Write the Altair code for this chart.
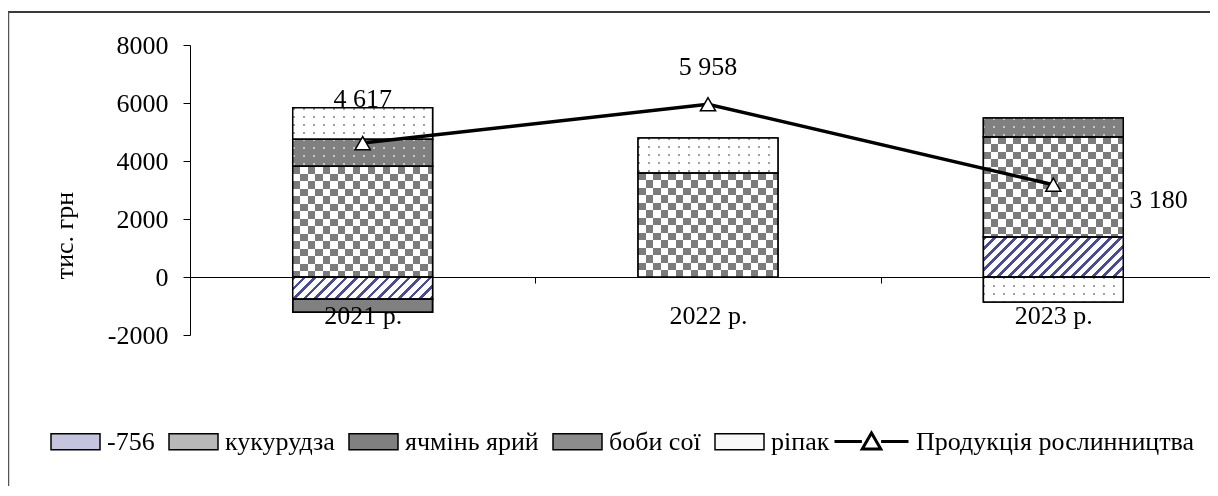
import json
import altair as alt
import pandas as pd

# ---------------- data ----------------
years = ["2021 р.", "2022 р.", "2023 р."]
series_names = ["-756", "кукурудза", "ячмінь ярий", "боби сої", "ріпак"]
s_756 = [-756, 0, 1380]
s_corn = [3820, 3590, 3450]
s_barley = [-460, 0, 0]
s_soy = [930, 0, 650]
s_rape = [1083, 1200, -860]
production = [4617, 5958, 3180]
production_labels = ["4 617", "5 958", "3 180"]
line_name = "Продукція рослинництва"
y_title = "тис. грн"
y_ticks = [-2000, 0, 2000, 4000, 6000, 8000]

series_values = [s_756, s_corn, s_barley, s_soy, s_rape]
rows = []
for k, (name, vals) in enumerate(zip(series_names, series_values)):
    for year, v in zip(years, vals):
        rows.append({"year": year, "series": name, "order": k, "value": v})
bars_df = pd.DataFrame(rows)
line_df = pd.DataFrame({"year": years, "production": production,
                        "label": production_labels})

# ---------------- layout / style ----------------
FONT = "Liberation Serif"
FS = 26
Y_MIN, Y_MAX = -2000, 8000
PLOT_W, PLOT_H = 1020, 290
X_RANGE = 1036
BAND_FRAC = 0.405
step = X_RANGE / len(years)
BW = step * BAND_FRAC
PPU = PLOT_H / (Y_MAX - Y_MIN)

x_enc = alt.X("year:N", sort=years, title=None,
              scale=alt.Scale(range=[0, X_RANGE], paddingInner=0, paddingOuter=0),
              axis=alt.Axis(orient="bottom", offset=-58, domainColor="black", domainWidth=1,
                            tickColor="black", tickSize=6, tickBand="extent",
                            labelFont=FONT, labelFontSize=FS, labelColor="black",
                            labelPadding=19, labelAngle=0, zindex=1, grid=False))
y_axis = alt.Axis(values=y_ticks, grid=False, labelExpr="'' + datum.value",
                  domainColor="black", tickColor="black", tickSize=7,
                  labelFont=FONT, labelFontSize=FS, labelColor="black", labelPadding=15,
                  title=y_title, titleFont=FONT, titleFontSize=FS, titleFontWeight="normal",
                  titleColor="black", titleX=-126, titleY=190, titleBaseline="middle",
                  titleAngle=270)
y_scale = alt.Scale(domain=[Y_MIN, Y_MAX], nice=False, zero=False)

legend_colors = ["#c4c4de", "#b8b8b8", "#808080", "#8c8c8c", "#f8f8f8"]

nonzero = "datum.value != 0"
stack_kw = dict(stack="value", groupby=["year"], as_=["y0", "y1"],
                sort=[alt.SortField("order")], offset="zero")
BAR_W = alt.RelativeBandSize(band=BAND_FRAC)


def stacked():
    return alt.Chart(bars_df).transform_filter(nonzero).transform_stack(**stack_kw)


def stops(n, frac, on, off):
    out = []
    i = 0
    while i < n:
        a = i / n
        b = min((i + frac) / n, 1.0)
        c = min((i + 1) / n, 1.0)
        out += [(a, on), (b, on), (b, off), (c, off)]
        i += 1
    return [{"offset": round(o, 5), "color": col} for o, col in out]


def grad(x2, y2, st):
    return {"gradient": "linear", "x1": 0, "y1": 0, "x2": round(x2, 5), "y2": round(y2, 5),
            "stops": st}


base = stacked().mark_bar(stroke="black", strokeWidth=1.5, width=BAR_W).encode(
    x=x_enc,
    y=alt.Y("y0:Q", scale=y_scale, axis=y_axis),
    y2="y1:Q",
    color=alt.Color("series:N", sort=series_names,
                    scale=alt.Scale(domain=series_names, range=legend_colors),
                    legend=alt.Legend(title=None, orient="none", legendX=-140, legendY=371,
                                      direction="horizontal", columns=5,
                                      symbolType="M-1,-0.33H1V0.33H-1Z", symbolSize=2401,
                                      symbolStrokeColor="black", symbolStrokeWidth=1.5,
                                      labelFont=FONT, labelFontSize=FS, labelColor="black",
                                      labelOffset=6, columnPadding=11, labelLimit=500,
                                      padding=0)),
)

layers = [base]


def overlay(year, name, fill, blend=None):
    flt = f"datum.year === {json.dumps(year)} && datum.series === {json.dumps(name)}"
    kw = dict(fill=fill, strokeWidth=0, width=BAR_W)
    if blend:
        kw["blend"] = blend
    return stacked().transform_filter(flt).mark_bar(**kw).encode(
        x=x_enc, y=alt.Y("y0:Q", scale=y_scale, axis=y_axis), y2="y1:Q")


for name, vals in zip(series_names, series_values):
    for year, v in zip(years, vals):
        if v == 0:
            continue
        h = abs(v) * PPU
        w = BW
        if name == "-756":
            k = h / w
            x2 = (1 + k) / (1 + k * k)
            layers.append(overlay(year, name, grad(x2, k * x2,
                                                   stops((w + h) / 10.5, 0.35, "#4a4a96", "#ffffff"))))
        elif name == "кукурудза":
            layers.append(overlay(year, name, grad(1, 0, stops(w / 15.0, 0.5, "#000000", "#ffffff"))))
            layers.append(overlay(year, name, grad(0, 1, stops(h / 15.0, 0.5, "#000000", "#ffffff")),
                                  "difference"))
            layers.append(overlay(year, name, "#7c7c7c", "lighten"))
        elif name == "боби сої":
            layers.append(overlay(year, name, grad(1, 0, stops(w / 10.0, 0.2, "#c8c8c8", "#808080"))))
            layers.append(overlay(year, name, grad(0, 1, stops(h / 8.0, 0.25, "#c8c8c8", "#808080")),
                                  "darken"))
        elif name == "ріпак":
            layers.append(overlay(year, name, grad(1, 0, stops(w / 10.0, 0.2, "#a0a0a0", "#ffffff"))))
            layers.append(overlay(year, name, grad(0, 1, stops(h / 8.0, 0.25, "#a0a0a0", "#ffffff")),
                                  "lighten"))

outline = stacked().mark_bar(fillOpacity=0, stroke="black", strokeWidth=1.5, width=BAR_W).encode(
    x=x_enc, y=alt.Y("y0:Q", scale=y_scale, axis=y_axis), y2="y1:Q")
layers.append(outline)

line_base = alt.Chart(line_df).transform_calculate(kind=json.dumps(line_name))
line = line_base.mark_line(strokeWidth=3.5).encode(
    x=x_enc,
    y=alt.Y("production:Q", scale=y_scale, axis=y_axis),
    stroke=alt.Stroke("kind:N", scale=alt.Scale(domain=[line_name], range=["black"]),
                      legend=alt.Legend(title=None, orient="none", legendX=643, legendY=358,
                                        symbolType="M-1,0H-0.26M0.26,0H1M0,-0.23L0.25,0.2L-0.25,0.2Z",
                                        symbolSize=5476, symbolStrokeWidth=3,
                                        symbolStrokeColor="black", symbolFillColor="white",
                                        labelFont=FONT, labelFontSize=FS, labelColor="black",
                                        labelOffset=6, labelLimit=500, padding=0)),
)
points = line_base.mark_point(shape="triangle-up", filled=True, fill="white", stroke="black",
                              strokeWidth=1.5, size=230, opacity=1).encode(
    x=x_enc, y=alt.Y("production:Q", scale=y_scale, axis=y_axis))

lab_kw = dict(font=FONT, fontSize=FS, color="black", baseline="middle")
lab1 = line_base.transform_filter(f"datum.year === {json.dumps(years[0])}").mark_text(
    dy=-44, **lab_kw).encode(x=x_enc, y=alt.Y("production:Q", scale=y_scale, axis=y_axis),
                            text="label:N")
lab2 = line_base.transform_filter(f"datum.year === {json.dumps(years[1])}").mark_text(
    dy=-37, **lab_kw).encode(x=x_enc, y=alt.Y("production:Q", scale=y_scale, axis=y_axis),
                            text="label:N")
lab3 = line_base.transform_filter(f"datum.year === {json.dumps(years[2])}").mark_text(
    dx=76, dy=15, align="left", **lab_kw).encode(
    x=x_enc, y=alt.Y("production:Q", scale=y_scale, axis=y_axis), text="label:N")

frame_df = pd.DataFrame({"f": [0]})
frame_top = alt.Chart(frame_df).mark_rule(color="#3a3a3a", strokeWidth=2).encode(
    x=alt.value(-182), x2=alt.value(1100), y=alt.value(-33))
frame_left = alt.Chart(frame_df).mark_rule(color="#555555", strokeWidth=1.5).encode(
    x=alt.value(-181.5), y=alt.value(-33), y2=alt.value(600))

layers += [line, points, lab1, lab2, lab3, frame_top, frame_left]

chart = alt.layer(*layers).properties(
    width=PLOT_W, height=PLOT_H,
    padding={"left": 182, "top": 37, "right": 0, "bottom": 151},
    autosize=alt.AutoSizeParams(type="none"),
    background="white",
).resolve_scale(x="shared", y="shared").configure_view(stroke="transparent")

chart.save("out.html", embed_options={"renderer": "svg", "actions": False})
